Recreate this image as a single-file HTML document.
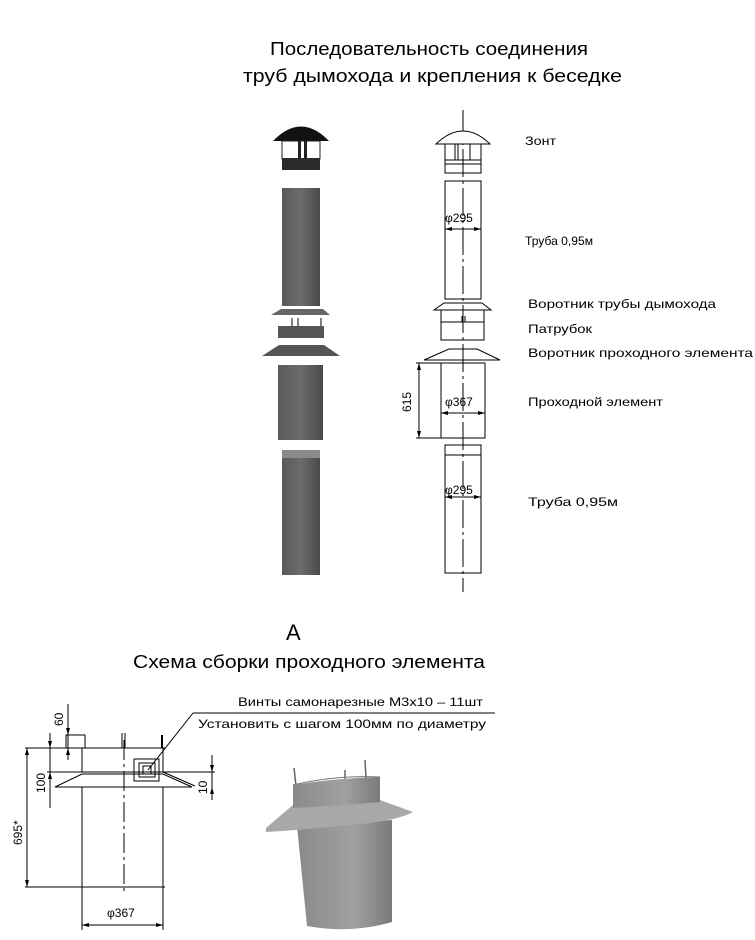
<!DOCTYPE html>
<html><head><meta charset="utf-8"><style>html,body{margin:0;padding:0;background:#fff}svg{display:block}</style></head>
<body>
<svg width="755" height="940" viewBox="0 0 755 940" xmlns="http://www.w3.org/2000/svg" font-family="'Liberation Sans','DejaVu Sans',sans-serif">
<defs>
<linearGradient id="g" x1="0" x2="1"><stop offset="0" stop-color="#5a5a5a"/><stop offset="0.5" stop-color="#6c6c6c"/><stop offset="1" stop-color="#4a4a4a"/></linearGradient>
<linearGradient id="g2" x1="0" x2="1"><stop offset="0" stop-color="#8a8a8a"/><stop offset="0.6" stop-color="#a0a0a0"/><stop offset="1" stop-color="#7a7a7a"/></linearGradient>
</defs>
<text x="270" y="55" font-size="18" textLength="318" lengthAdjust="spacingAndGlyphs">Последовательность соединения</text>
<text x="243" y="82" font-size="18" textLength="379" lengthAdjust="spacingAndGlyphs">труб дымохода и крепления к беседке</text>

<path d="M273 141 Q301 112 329 141 Z" fill="#111"/>
<rect x="282" y="141" width="38" height="18" fill="#fff" stroke="#222" stroke-width="1"/>
<rect x="298" y="141" width="3" height="18" fill="#222"/><rect x="304" y="141" width="3" height="18" fill="#222"/>
<rect x="282" y="158" width="38" height="12" fill="#2a2a2a"/>
<rect x="282" y="188" width="38" height="118" fill="url(#g)"/>
<polygon points="281,309 323,309 330,315 271,315" fill="#666"/>
<line x1="292" y1="318" x2="292" y2="326" stroke="#555" stroke-width="1.5"/><line x1="298" y1="318" x2="298" y2="326" stroke="#555" stroke-width="1.5"/><line x1="321" y1="318" x2="321" y2="326" stroke="#555" stroke-width="1.5"/>
<rect x="278" y="326" width="46" height="12" fill="#555"/>
<polygon points="279,345 324,345 340,356 262,356" fill="#555"/>
<rect x="278" y="365" width="45" height="75" fill="url(#g)"/>
<rect x="282" y="450" width="38" height="8" fill="#8a8a8a"/>
<rect x="282" y="458" width="38" height="117" fill="url(#g)"/>

<g stroke="#000" stroke-width="1" fill="none">
<line x1="463" y1="110" x2="463" y2="592" stroke-dasharray="28,4,3,4"/>
<path d="M436 144 Q463 118 490 144 Z" fill="#fff"/>
<rect x="445" y="144" width="36" height="16"/>
<line x1="455" y1="144" x2="455" y2="160"/><line x1="470" y1="144" x2="470" y2="160"/><line x1="458" y1="144" x2="458" y2="160"/>
<rect x="445" y="160" width="36" height="13"/><line x1="445" y1="164" x2="481" y2="164"/>
<rect x="445" y="181" width="36" height="118"/>
<line x1="445" y1="229" x2="481" y2="229"/>
<polygon points="434,310 444,303 482,303 491,310"/><line x1="434" y1="310" x2="491" y2="310"/>
<rect x="441" y="322" width="43" height="18"/>
<line x1="441" y1="310" x2="441" y2="322"/><line x1="484" y1="310" x2="484" y2="322"/><line x1="462" y1="316" x2="462" y2="322"/><line x1="465" y1="316" x2="465" y2="322"/>
<polygon points="424,360 449,349 477,349 500,360"/><line x1="424" y1="360" x2="500" y2="360"/>
<rect x="441" y="363" width="44" height="75"/>
<line x1="441" y1="413" x2="485" y2="413"/>
<line x1="416" y1="363" x2="441" y2="363"/><line x1="416" y1="438" x2="441" y2="438"/>
<line x1="419" y1="363" x2="419" y2="438"/>
<rect x="445" y="445" width="36" height="128"/><line x1="445" y1="455" x2="481" y2="455"/>
<line x1="445" y1="497" x2="481" y2="497"/>
</g>
<g fill="#000">
<polygon points="445,229 452,227 452,231"/><polygon points="481,229 474,227 474,231"/>
<polygon points="441,413 448,411 448,415"/><polygon points="485,413 478,411 478,415"/>
<polygon points="419,363 417,370 421,370"/><polygon points="419,438 417,431 421,431"/>
<polygon points="445,497 452,495 452,499"/><polygon points="481,497 474,495 474,499"/>
</g>
<g font-size="12">
<text x="445" y="222">φ295</text>
<text x="445" y="406">φ367</text>
<text x="445" y="494">φ295</text>
<text transform="translate(411,412) rotate(-90)">615</text>
<text x="525" y="145" textLength="31" lengthAdjust="spacingAndGlyphs">Зонт</text>
<text x="525" y="245" textLength="68" lengthAdjust="spacingAndGlyphs">Труба 0,95м</text>
<text x="528" y="308" textLength="188" lengthAdjust="spacingAndGlyphs">Воротник трубы дымохода</text>
<text x="528" y="333" textLength="64" lengthAdjust="spacingAndGlyphs">Патрубок</text>
<text x="528" y="357" textLength="225" lengthAdjust="spacingAndGlyphs">Воротник проходного элемента</text>
<text x="528" y="406" textLength="135" lengthAdjust="spacingAndGlyphs">Проходной элемент</text>
<text x="528" y="506" textLength="90" lengthAdjust="spacingAndGlyphs">Труба  0,95м</text>
</g>

<text x="286" y="640" font-size="22">A</text>
<text x="133" y="668" font-size="18" textLength="352" lengthAdjust="spacingAndGlyphs">Схема сборки проходного элемента</text>

<g stroke="#000" stroke-width="1" fill="none">
<line x1="25" y1="748" x2="165" y2="748"/>
<line x1="82" y1="748" x2="82" y2="772"/><line x1="163" y1="748" x2="163" y2="772"/>
<rect x="66" y="735" width="19" height="13"/>
<line x1="122" y1="733" x2="122" y2="748"/><line x1="125" y1="733" x2="125" y2="748"/>
<line x1="162" y1="735" x2="162" y2="748" stroke-width="2"/>
<line x1="47" y1="772" x2="215" y2="772"/>
<polygon points="55,787 82,774 163,774 192,787"/>
<line x1="82" y1="787" x2="82" y2="887"/><line x1="163" y1="787" x2="163" y2="887"/>
<line x1="25" y1="887" x2="165" y2="887"/>
<line x1="124" y1="740" x2="124" y2="895" stroke-dasharray="20,4,3,4"/>
<line x1="27" y1="748" x2="27" y2="887"/>
<line x1="50" y1="733" x2="50" y2="808"/>
<line x1="68" y1="704" x2="68" y2="760"/>
<line x1="212" y1="755" x2="212" y2="800"/>
<line x1="82" y1="887" x2="82" y2="930"/><line x1="163" y1="887" x2="163" y2="930"/>
<line x1="82" y1="925" x2="163" y2="925"/>
<rect x="134" y="759" width="25" height="22"/><rect x="139" y="763" width="16" height="14"/><rect x="143" y="766" width="8" height="8"/>
<line x1="148" y1="770" x2="193" y2="713"/>
<line x1="193" y1="713" x2="495" y2="713"/>
<line x1="163" y1="772" x2="195" y2="786"/>
</g>
<g fill="#000">
<polygon points="27,748 25,755 29,755"/><polygon points="27,887 25,880 29,880"/>
<polygon points="50,748 48,741 52,741"/><polygon points="50,772 48,779 52,779"/>
<polygon points="68,735 66,728 70,728"/><polygon points="68,748 66,755 70,755"/>
<polygon points="212,772 210,765 214,765"/><polygon points="212,787 210,794 214,794"/>
<polygon points="82,925 89,923 89,927"/><polygon points="163,925 156,923 156,927"/>
</g>
<g font-size="12">
<text transform="translate(22,845) rotate(-90)">695*</text>
<text transform="translate(45,793) rotate(-90)">100</text>
<text transform="translate(63,726) rotate(-90)">60</text>
<text transform="translate(207,794) rotate(-90)">10</text>
<text x="107" y="917">φ367</text>
<text x="238" y="706" textLength="245" lengthAdjust="spacingAndGlyphs">Винты самонарезные M3x10 – 11шт</text>
<text x="198" y="728" textLength="288" lengthAdjust="spacingAndGlyphs">Установить с шагом 100мм по диаметру</text>
</g>

<g stroke="#666" stroke-width="1.5">
<line x1="294" y1="768" x2="296" y2="786"/><line x1="345" y1="770" x2="345" y2="782"/><line x1="365" y1="760" x2="366" y2="778"/>
</g>
<path d="M297 826 L392 820 L392 922 Q350 934 307 926 Z" fill="url(#g2)"/>
<path d="M266 828 L293 805 L380 800 L413 812 Q395 822 340 826 Q300 830 266 832 Z" fill="#a8a8a8"/>
<path d="M293 785 Q336 778 380 777 L380 802 Q336 806 293 808 Z" fill="url(#g2)"/>
<path d="M293 785 Q336 775 380 777" fill="none" stroke="#777" stroke-width="1"/>
</svg>
</body></html>
